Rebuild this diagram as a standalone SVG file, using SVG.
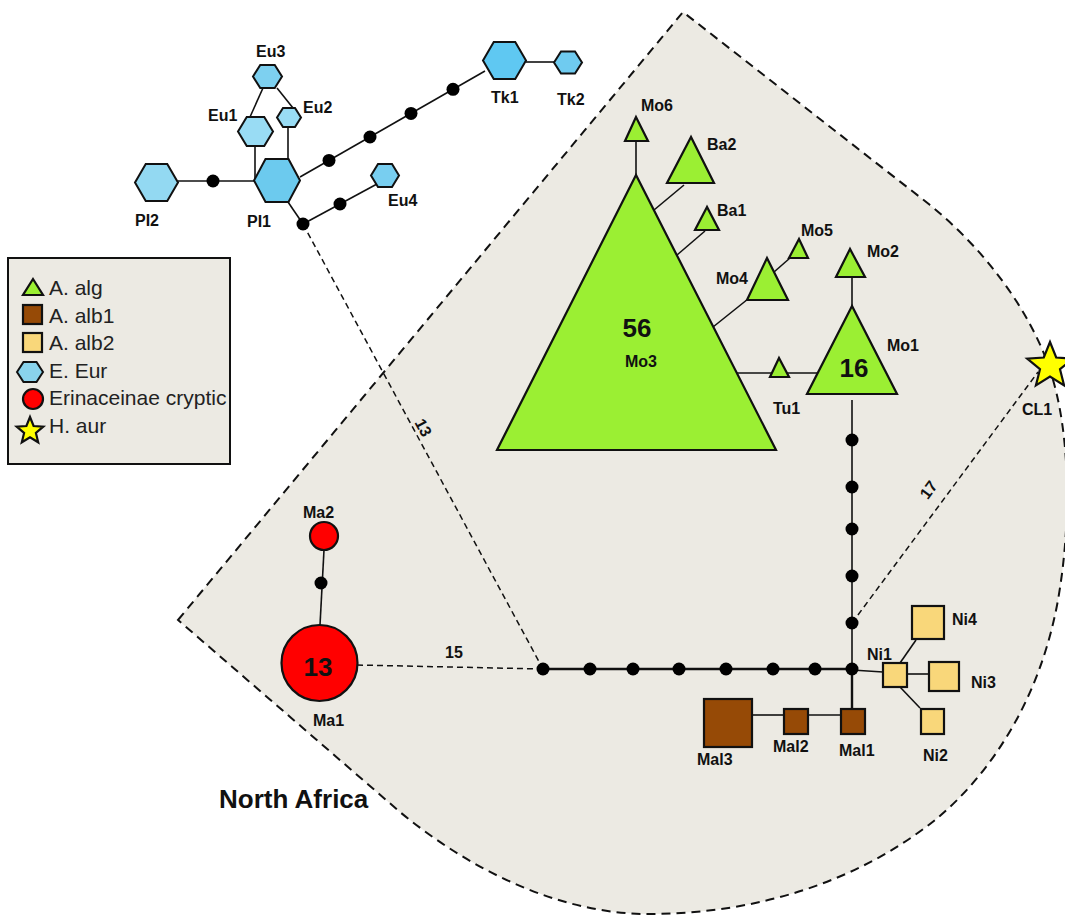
<svg xmlns="http://www.w3.org/2000/svg" width="1065" height="915" viewBox="0 0 1065 915">
<style>
.lbl{font-family:"Liberation Sans",Arial,sans-serif;font-weight:bold;font-size:16px;fill:#111}
.num{font-family:"Liberation Sans",Arial,sans-serif;font-weight:bold;font-size:26px;fill:#111;text-anchor:middle}
.leg{font-family:"Liberation Sans",Arial,sans-serif;font-size:21px;fill:#222}
.ttl{font-family:"Liberation Sans",Arial,sans-serif;font-weight:bold;font-size:26px;fill:#111}
.ln{stroke:#111;stroke-width:1.6;fill:none}
.lnb{stroke:#111;stroke-width:2.4;fill:none}
.dash{stroke:#111;stroke-width:1.5;stroke-dasharray:6 4;fill:none}
.dot{fill:#000}
.sh{stroke:#111;stroke-width:2.2}
.alg{fill:#9BEF33}
.alb1{fill:#964A06}
.alb2{fill:#F9D77A}
.red{fill:#FF0000}
.hex{stroke:#111;stroke-width:2}
</style>
<g id="region">
<path d="M178,620 L683,12 L930,205 C985,250 1030,310 1050,370 C1070,430 1072,520 1058,600 C1040,700 990,775 935,820 C860,880 760,914 648,914 C560,914 470,870 400,812 Z" fill="#ECEAE3" stroke="#111" stroke-width="2" stroke-dasharray="9 6"/>
</g>
<g id="legend">
<rect x="8" y="258" width="222" height="206" fill="#ECEAE3" stroke="#111" stroke-width="2"/>
<polygon points="33,279 43,295 23,295" class="alg sh"/>
<rect x="23" y="305" width="19" height="19" class="alb1 sh"/>
<rect x="23" y="333" width="19" height="19" class="alb2 sh"/>
<polygon points="17,372 23.5,362 36.5,362 43,372 36.5,382 23.5,382" fill="#89D3EC" class="hex"/>
<circle cx="33" cy="399" r="10" class="red sh"/>
<polygon points="30,417 33.6,426 43.3,426.7 35.9,432.9 38.2,442.3 30,437.2 21.8,442.3 24.1,432.9 16.7,426.7 26.4,426" fill="#FFFF00" class="sh"/>
<text x="49" y="295" class="leg">A. alg</text>
<text x="49" y="323" class="leg">A. alb1</text>
<text x="49" y="350" class="leg">A. alb2</text>
<text x="49" y="378" class="leg">E. Eur</text>
<text x="49" y="405" class="leg">Erinaceinae cryptic</text>
<text x="49" y="433" class="leg">H. aur</text>
</g>
<g id="connectors">
<line x1="178" y1="181" x2="254" y2="181" class="ln"/>
<line x1="263" y1="88" x2="250" y2="117" class="ln"/>
<line x1="277" y1="88" x2="293" y2="108" class="ln"/>
<line x1="255" y1="146" x2="255" y2="179" class="ln"/>
<line x1="288" y1="127" x2="288" y2="160" class="ln"/>
<line x1="300" y1="177" x2="485" y2="71" class="ln"/>
<line x1="526" y1="62" x2="554" y2="62" class="ln"/>
<line x1="288" y1="202" x2="303" y2="224" class="ln"/>
<line x1="303" y1="224" x2="377" y2="184" class="ln"/>
<line x1="636" y1="141" x2="636" y2="175" class="ln"/>
<line x1="654" y1="210" x2="684" y2="185" class="ln"/>
<line x1="677" y1="255" x2="705" y2="231" class="ln"/>
<line x1="713" y1="327" x2="748" y2="299" class="ln"/>
<line x1="774" y1="272" x2="790" y2="258" class="ln"/>
<line x1="737" y1="373" x2="818" y2="373" class="ln"/>
<line x1="852" y1="277" x2="852" y2="306" class="ln"/>
<line x1="852" y1="400" x2="852" y2="669" class="ln"/>
<line x1="852" y1="669" x2="852" y2="709" class="lnb"/>
<line x1="543" y1="669" x2="852" y2="669" class="lnb"/>
<line x1="852" y1="670" x2="883" y2="672" class="ln"/>
<line x1="900" y1="663" x2="916" y2="640" class="ln"/>
<line x1="907" y1="674" x2="929" y2="674" class="ln"/>
<line x1="900" y1="687" x2="920" y2="708" class="ln"/>
<line x1="752" y1="715" x2="784" y2="715" class="ln"/>
<line x1="808" y1="715" x2="841" y2="715" class="ln"/>
<line x1="324" y1="550" x2="320" y2="625" class="ln"/>
<line x1="303" y1="224" x2="543" y2="669" class="dash"/>
<line x1="357" y1="665" x2="543" y2="669" class="dash"/>
<line x1="852" y1="623" x2="1038" y2="372" class="dash"/>
<circle cx="213" cy="181" r="6.5" class="dot"/>
<circle cx="329" cy="160.4" r="6.5" class="dot"/>
<circle cx="370" cy="137" r="6.5" class="dot"/>
<circle cx="411" cy="113.4" r="6.5" class="dot"/>
<circle cx="453" cy="89.3" r="6.5" class="dot"/>
<circle cx="303" cy="224" r="6.5" class="dot"/>
<circle cx="340" cy="204" r="6.5" class="dot"/>
<circle cx="321" cy="583" r="6.5" class="dot"/>
<circle cx="852" cy="440" r="6.5" class="dot"/>
<circle cx="852" cy="487" r="6.5" class="dot"/>
<circle cx="852" cy="529" r="6.5" class="dot"/>
<circle cx="852" cy="576" r="6.5" class="dot"/>
<circle cx="852" cy="623" r="6.5" class="dot"/>
<circle cx="543" cy="669" r="6.5" class="dot"/>
<circle cx="590" cy="669" r="6.5" class="dot"/>
<circle cx="633" cy="669" r="6.5" class="dot"/>
<circle cx="679" cy="669" r="6.5" class="dot"/>
<circle cx="726" cy="669" r="6.5" class="dot"/>
<circle cx="773" cy="669" r="6.5" class="dot"/>
<circle cx="815" cy="669" r="6.5" class="dot"/>
<circle cx="852" cy="669" r="6.5" class="dot"/>
<text x="423" y="433" class="lbl" text-anchor="middle" transform="rotate(61.6 423 428)">13</text>
<text x="445" y="658" class="lbl">15</text>
<text x="929" y="495" class="lbl" text-anchor="middle" transform="rotate(-53.5 929 490)">17</text>
</g>
<g id="PI2"><polygon points="135,182.5 145.75,164 167.25,164 178,182.5 167.25,201 145.75,201" fill="#93D9F2" class="hex"/><text x="135" y="226" class="lbl">PI2</text></g>
<g id="PI1"><polygon points="254,180.5 265.5,159 288.5,159 300,180.5 288.5,202 265.5,202" fill="#6CCAEE" class="hex"/><text x="247" y="227" class="lbl">PI1</text></g>
<g id="Eu1"><polygon points="238,131.5 246.75,117 264.25,117 273,131.5 264.25,146 246.75,146" fill="#99DCF4" class="hex"/><text x="208" y="121" class="lbl">Eu1</text></g>
<g id="Eu2"><polygon points="277,117.5 283,108 295,108 301,117.5 295,127 283,127" fill="#99DCF4" class="hex"/><text x="303" y="113" class="lbl">Eu2</text></g>
<g id="Eu3"><polygon points="253,76.5 260.25,65 274.75,65 282,76.5 274.75,88 260.25,88" fill="#7DD0F0" class="hex"/><text x="256" y="57" class="lbl">Eu3</text></g>
<g id="Eu4"><polygon points="371,175.5 378,164 392,164 399,175.5 392,187 378,187" fill="#78CEF0" class="hex"/><text x="388" y="206" class="lbl">Eu4</text></g>
<g id="Tk1"><polygon points="483,60.5 493.75,42 515.25,42 526,60.5 515.25,79 493.75,79" fill="#5FC8F2" class="hex"/><text x="491" y="103" class="lbl">Tk1</text></g>
<g id="Tk2"><polygon points="554,62.5 561,51.5 575,51.5 582,62.5 575,73.5 561,73.5" fill="#6FCBF0" class="hex"/><text x="557" y="105" class="lbl">Tk2</text></g>
<g id="Mo3"><polygon points="636,175 497,450 776,450" class="alg sh"/><text x="637" y="337" class="num">56</text><text x="641" y="367" class="lbl" text-anchor="middle">Mo3</text></g>
<g id="Mo6"><polygon points="636,117 625,141 648,141" class="alg sh"/><text x="641" y="111" class="lbl">Mo6</text></g>
<g id="Ba2"><polygon points="691,137 667,183 714,183" class="alg sh"/><text x="707" y="150" class="lbl">Ba2</text></g>
<g id="Ba1"><polygon points="707,207 695,230 719,230" class="alg sh"/><text x="717" y="216" class="lbl">Ba1</text></g>
<g id="Mo4"><polygon points="767,258 747,300 788,300" class="alg sh"/><text x="716" y="284" class="lbl">Mo4</text></g>
<g id="Mo5"><polygon points="799,239 789,258 808,258" class="alg sh"/><text x="801" y="236" class="lbl">Mo5</text></g>
<g id="Mo2"><polygon points="850,249 836,277 865,277" class="alg sh"/><text x="867" y="257" class="lbl">Mo2</text></g>
<g id="Mo1"><polygon points="852,306 807,394 897,394" class="alg sh"/><text x="854" y="377" class="num">16</text><text x="887" y="351" class="lbl">Mo1</text></g>
<g id="Tu1"><polygon points="779,358 770,377 789,377" class="alg sh"/><text x="773" y="414" class="lbl">Tu1</text></g>
<g id="CL1"><polygon points="1050,342 1056.2,357.5 1072.8,358.6 1060,369.2 1064.1,385.4 1050,376.5 1035.9,385.4 1040,369.2 1027.2,358.6 1043.8,357.5" fill="#FFFF00" class="sh"/><text x="1022" y="415" class="lbl">CL1</text></g>
<g id="Ma2"><circle cx="324" cy="536" r="14" class="red sh"/><text x="303" y="518" class="lbl">Ma2</text></g>
<g id="Ma1"><circle cx="319.5" cy="663" r="38" class="red sh"/><text x="318" y="676" class="num">13</text><text x="313" y="726" class="lbl">Ma1</text></g>
<g id="Mal1"><rect x="841" y="709" width="24" height="25" class="alb1 sh"/><text x="839" y="756" class="lbl">Mal1</text></g>
<g id="Mal2"><rect x="784" y="709" width="24" height="25" class="alb1 sh"/><text x="773" y="752" class="lbl">Mal2</text></g>
<g id="Mal3"><rect x="704" y="699" width="48" height="48" class="alb1 sh"/><text x="697" y="765" class="lbl">Mal3</text></g>
<g id="Ni1"><rect x="883" y="663" width="24" height="24" class="alb2 sh"/><text x="867" y="660" class="lbl">Ni1</text></g>
<g id="Ni2"><rect x="921" y="709" width="23" height="25" class="alb2 sh"/><text x="923" y="761" class="lbl">Ni2</text></g>
<g id="Ni3"><rect x="929" y="662" width="30" height="29" class="alb2 sh"/><text x="971" y="688" class="lbl">Ni3</text></g>
<g id="Ni4"><rect x="912" y="606" width="32" height="33" class="alb2 sh"/><text x="952" y="625" class="lbl">Ni4</text></g>
<text x="219" y="808" class="ttl">North Africa</text>
</svg>
